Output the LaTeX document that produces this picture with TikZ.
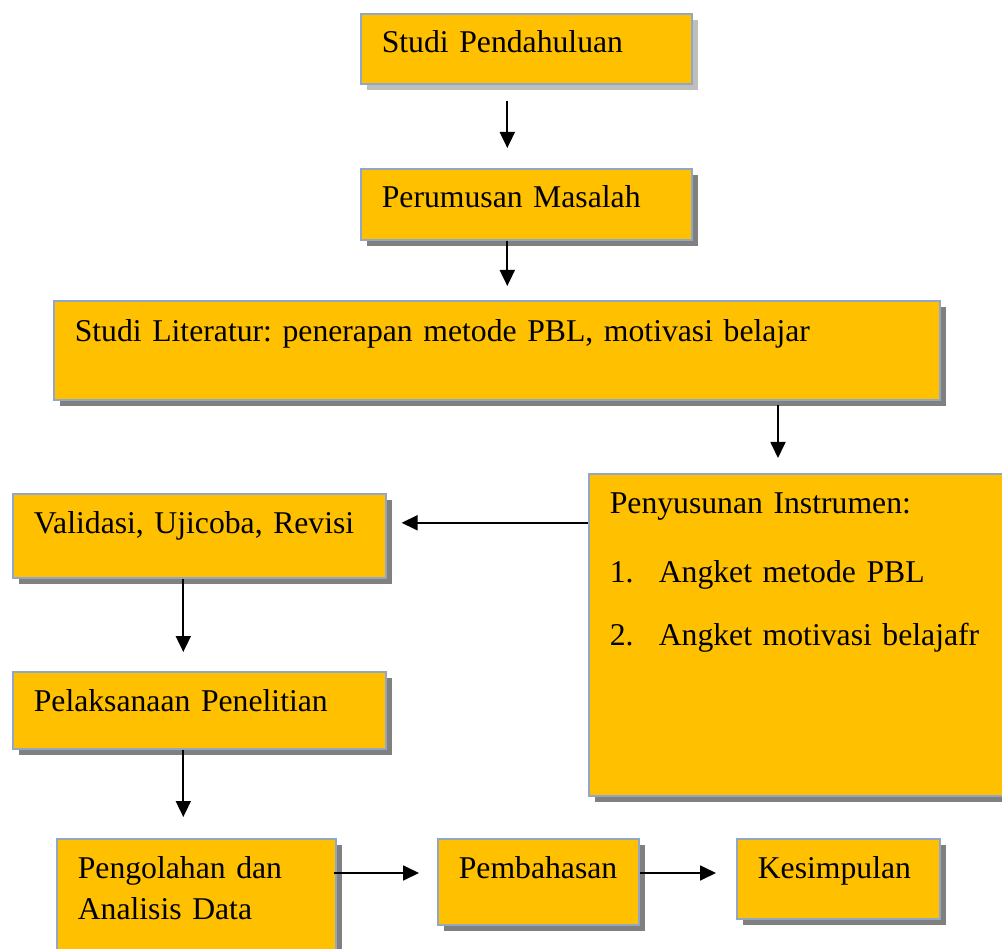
\documentclass[tikz,border=0pt]{standalone}
\usepackage{fontspec}
\setmainfont{Liberation Serif}
\usepackage{xcolor}
\usetikzlibrary{arrows.meta,shadows}
\definecolor{AlurOranye}{RGB}{255, 192, 0}
\definecolor{AlurGaris}{RGB}{146, 166, 200}
\definecolor{AlurBayang}{RGB}{128, 128, 128}
\definecolor{AlurBayangMuda}{RGB}{190, 190, 190}
\newcommand{\hurufkotak}{\fontsize{31.7}{41}\selectfont\frenchspacing\spaceskip=6.7pt\relax}

\tikzset{
  kotak/.style={draw=AlurGaris, line width=1.6pt, fill=AlurOranye, anchor=north west,
    inner xsep=21pt, inner ysep=0pt, align=left, text height=40pt,
    font=\hurufkotak,
    drop shadow={shadow xshift=6pt, shadow yshift=-6pt, fill=AlurBayang, opacity=1}},
  panah/.style={line width=1.8pt, -{Triangle[width=15pt,length=16pt]}}
}

\begin{document}
\begin{tikzpicture}[x=1pt, y=-1pt]

% Page frame
\clip (0,0) rectangle (1002,949);
\fill[white] (0,0) rectangle (1002,949);

% Boxes of the research flow
\node[kotak, text width=289pt, inner xsep=21pt, text height=39pt, text depth=31pt,
  drop shadow={shadow xshift=6pt, shadow yshift=-6pt, fill=AlurBayangMuda, opacity=1}]
  (pend) at (360,13) {Studi Pendahuluan};
\node[kotak, text width=289pt, text height=39pt, text depth=32pt]
  (rumus) at (360,168) {Perumusan Masalah};
\node[kotak, text width=844pt, text height=41pt, text depth=58pt]
  (lit) at (53,300) {Studi Literatur: penerapan metode PBL, motivasi belajar};
\node[kotak, text width=382pt, text depth=282pt]
  (susun) at (588,473) {Penyusunan Instrumen:\\[28pt]
    \makebox[49pt][l]{1.}Angket metode PBL\\[22pt]
    \makebox[49pt][l]{2.}Angket motivasi belajafr};
\node[kotak, text width=331pt, text depth=44pt]
  (valid) at (12,493) {Validasi, Ujicoba, Revisi};
\node[kotak, text width=331pt, text depth=37pt]
  (laks) at (12,671) {Pelaksanaan Penelitian};
\node[kotak, text width=237pt, text depth=90pt]
  (olah) at (56,838) {Pengolahan dan\\Analisis Data};
\node[kotak, text width=159pt, text depth=46pt]
  (bahas) at (437,838) {Pembahasan};
\node[kotak, text width=161pt, text depth=40pt]
  (simpul) at (736,838) {Kesimpulan};

% Arrows
\draw[panah, shorten <=16pt, shorten >=20pt] ([xshift=-19pt]pend.south) -- ([xshift=-19pt]rumus.north);
\draw[panah, shorten >=14pt] ([xshift=-19pt]rumus.south) -- ([xshift=-19pt]rumus.south |- lit.north);
\draw[panah, shorten <=4pt, shorten >=15pt] ([xshift=190pt]susun.north west |- lit.south) -- ([xshift=190pt]susun.north west);
\draw[panah, shorten >=15pt] ([yshift=13pt]valid.east -| susun.west) -- ([yshift=13pt]valid.east);
\draw[panah, shorten >=19pt] ([xshift=-16pt]valid.south) -- ([xshift=-16pt]laks.north);
\draw[panah, shorten >=21pt] ([xshift=-16pt]laks.south) -- ([xshift=-16pt]laks.south |- olah.north);
\draw[panah, shorten <=-3pt, shorten >=18pt] ([yshift=-35pt]olah.north east) -- ([yshift=-35pt]bahas.north west);
\draw[panah, shorten >=20pt] ([yshift=-35pt]bahas.north east) -- ([yshift=-35pt]simpul.north west);

\end{tikzpicture}
\end{document}
